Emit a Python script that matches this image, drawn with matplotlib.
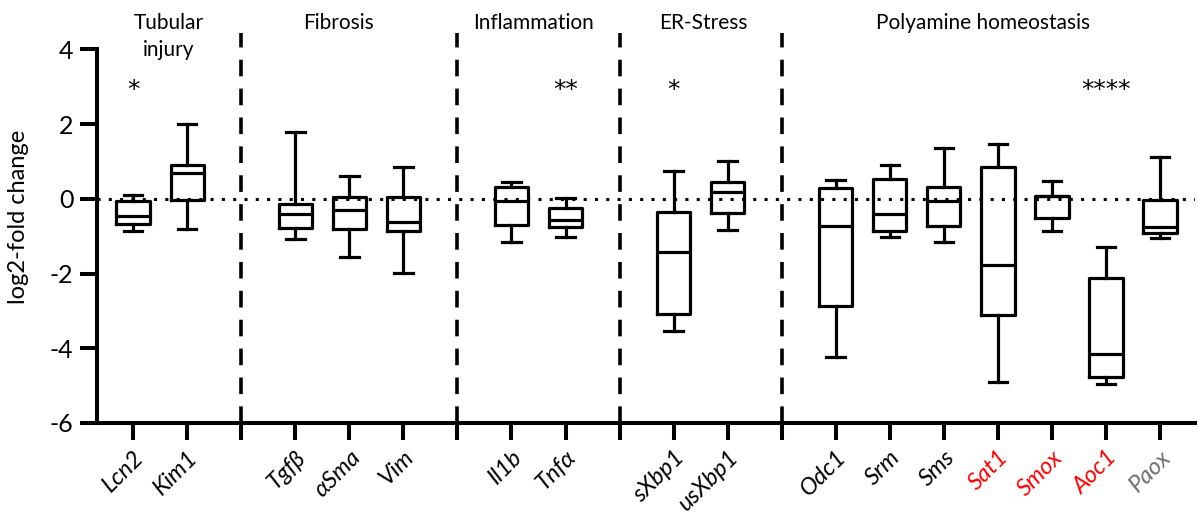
import numpy as np
import matplotlib
matplotlib.use("Agg")
import matplotlib.pyplot as plt

plt.rcParams['font.family'] = ['Lato', 'DejaVu Sans']

# genes and their slot on the x axis (gaps = group separators)
genes = ['Lcn2', 'Kim1', 'Tgfβ', 'αSma', 'Vim', 'Il1b', 'Tnfα', 'sXbp1', 'usXbp1',
         'Odc1', 'Srm', 'Sms', 'Sat1', 'Smox', 'Aoc1', 'Paox']
positions = [1, 2, 4, 5, 6, 8, 9, 11, 12, 14, 15, 16, 17, 18, 19, 20]
label_colors = ['black'] * 12 + ['#ff0000', '#ff0000', '#ff0000', '#6e6e6e']

# box plot summary stats (log2-fold change)
whislo = [-0.87, -0.81, -1.08, -1.55, -1.98, -1.16, -1.03, -3.53, -0.83,
          -4.22, -1.01, -1.16, -4.89, -0.87, -4.95, -1.05]
q1 = [-0.67, -0.03, -0.78, -0.81, -0.87, -0.70, -0.76, -3.08, -0.37,
      -2.86, -0.86, -0.74, -3.11, -0.52, -4.76, -0.92]
med = [-0.47, 0.69, -0.41, -0.31, -0.61, -0.05, -0.56, -1.42, 0.18,
       -0.72, -0.41, -0.05, -1.78, 0.08, -4.16, -0.76]
q3 = [-0.07, 0.91, -0.13, 0.05, 0.06, 0.33, -0.25, -0.36, 0.44,
      0.30, 0.54, 0.33, 0.84, 0.08, -2.11, -0.03]
whishi = [0.10, 2.00, 1.80, 0.60, 0.86, 0.46, 0.03, 0.75, 1.02,
          0.51, 0.91, 1.36, 1.46, 0.48, -1.28, 1.13]

separators = [3, 7, 10, 13]
groups = ['Tubular\ninjury', 'Fibrosis', 'Inflammation', 'ER-Stress', 'Polyamine homeostasis']
group_x = [1.65, 4.79, 8.40, 11.55, 16.73]

stars = ['*', '**', '*', '****']
star_x = [1, 9, 11, 19]

fig = plt.figure(figsize=(11.98, 5.18), dpi=100)
ax = fig.add_axes([0.081, 0.1834, 0.9165, 0.7212])

stats = []
for i in range(len(genes)):
    stats.append(dict(whislo=whislo[i], q1=q1[i], med=med[i], q3=q3[i], whishi=whishi[i]))

lw = 2.3
ax.bxp(stats, positions=positions, widths=0.62, showfliers=False,
       boxprops=dict(color='black', linewidth=lw),
       whiskerprops=dict(color='black', linewidth=lw),
       capprops=dict(color='black', linewidth=lw),
       medianprops=dict(color='black', linewidth=lw),
       capwidths=0.34, manage_ticks=False)

# zero reference line
ax.axhline(0, color='black', linewidth=2.2, linestyle=(0, (1, 2.7)), zorder=0)

# group separators
for s in separators:
    ax.plot([s, s], [-6, 4.45], color='black', linewidth=2.6,
            linestyle=(0, (4.6, 3.4)), clip_on=False, zorder=1)

for gx, g in zip(group_x, groups):
    if '\n' in g:
        ax.text(gx, 4.35, g, ha='center', va='center', fontsize=15, linespacing=1.45)
    else:
        ax.text(gx, 4.71, g, ha='center', va='center', fontsize=15)

for sx, st in zip(star_x, stars):
    ax.text(sx, 2.72, st, ha='center', va='baseline', fontsize=18, family='DejaVu Sans')

ax.set_xlim(0.33, 20.65)
ax.set_ylim(-6, 4)
ax.set_yticks([-6, -4, -2, 0, 2, 4])
ax.set_yticklabels(['-6', '-4', '-2', '0', '2', '4'], fontsize=18)

tick_pos = sorted(positions + separators)
ax.set_xticks(tick_pos)
ax.set_xticklabels(['' if p in separators else genes[positions.index(p)] for p in tick_pos],
                   fontsize=17, style='italic', rotation=45, ha='right',
                   rotation_mode='anchor')
for lab, p in zip(ax.get_xticklabels(), tick_pos):
    if p in positions:
        lab.set_color(label_colors[positions.index(p)])

ax.tick_params(axis='both', width=2.9, length=12)
ax.tick_params(axis='y', pad=5)
ax.tick_params(axis='x', pad=5)
ax.spines['top'].set_visible(False)
ax.spines['right'].set_visible(False)
ax.spines['left'].set_linewidth(2.9)
ax.spines['bottom'].set_linewidth(2.9)

ax.set_ylabel('log2-fold change', fontsize=17)
ax.yaxis.set_label_coords(-0.062, 0.553)

fig.savefig('out.png', dpi=100)
